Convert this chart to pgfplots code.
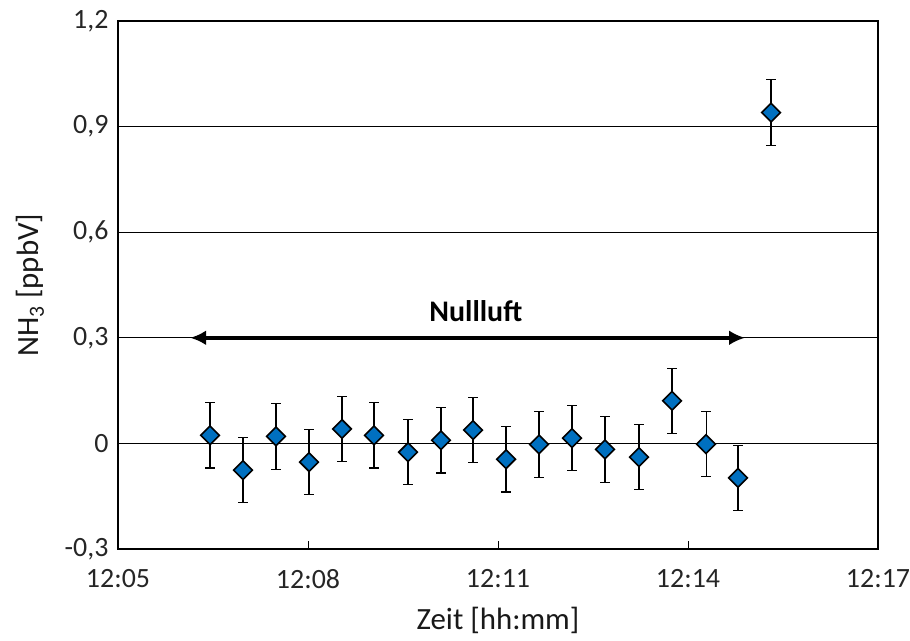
\documentclass[border=0pt]{standalone}
\usepackage{pgfplots}
\pgfplotsset{compat=1.18}
\usepackage{fontspec}
\setmainfont{Carlito}
\usetikzlibrary{arrows.meta}
\definecolor{mblue}{HTML}{0070C0}
\begin{document}
\begin{tikzpicture}
\begin{axis}[
  name=ax,
  scale only axis,
  width=760bp, height=528bp,
  xmin=5, xmax=17, ymin=-0.3, ymax=1.2,
  xtick={5,8,11,14,17},
  xticklabels={12:05,12:08,12:11,12:14,12:17},
  ytick={-0.3,0,0.3,0.6,0.9,1.2},
  yticklabels={{-0,3},{0},{0,3},{0,6},{0,9},{1,2}},
  /pgf/number format/assume math mode=true,
  tick align=inside,
  xtick pos=bottom, ytick pos=left,
  major tick length=8bp,
  xtick style={black, line width=0.8bp},
  ytick style={draw=none},
  ymajorgrids,
  major grid style={black, line width=1bp},
  axis line style={black, line width=2.4bp},
  tick label style={font=\fontsize{28}{33}\selectfont, text=black!85},
  xticklabel style={yshift=-17bp},
  yticklabel style={xshift=-6bp},
  label style={font=\fontsize{31}{36}\selectfont, text=black!90},
  xlabel={Zeit [hh:mm]},
  ylabel={NH\textsubscript{3} [ppbV]},
  xlabel style={at={(axis description cs:0.5,0)}, anchor=center, yshift=-71bp},
  ylabel style={at={(axis description cs:0,0.5)}, anchor=center, yshift=88bp},
  clip=false,
]
\addplot[
  only marks,
  mark=square*,
  mark size=6.6bp,
  mark options={rotate=45, fill=mblue, draw=black, line width=1.6bp},
  error bars/.cd,
    y dir=both, y explicit,
    error bar style={black, line width=1.1bp},
    error mark options={rotate=90, mark size=4.7bp, line width=1.1bp, black},
] table[x=x, y=y, y error=e] {
x y e
6.453 0.023 0.093
6.974 -0.076 0.093
7.495 0.020 0.093
8.016 -0.053 0.093
8.537 0.041 0.093
9.042 0.023 0.093
9.579 -0.025 0.093
10.100 0.009 0.093
10.606 0.038 0.093
11.127 -0.045 0.093
11.648 -0.003 0.093
12.169 0.015 0.093
12.690 -0.017 0.093
13.227 -0.039 0.093
13.748 0.121 0.093
14.285 -0.002 0.093
14.790 -0.098 0.093
15.311 0.940 0.093
};
\draw[line width=4.5bp, {Latex[length=16bp,width=15bp]}-{Latex[length=16bp,width=15bp]}] (axis cs:6.14,0.3) -- (axis cs:14.90,0.3);
\node[font=\fontsize{30}{35}\selectfont\bfseries] at (axis cs:10.65,0.376) {Nullluft};
\draw[black, line width=2.6bp] (rel axis cs:0,0) rectangle (rel axis cs:1,1);
\end{axis}
\pgfresetboundingbox
\path ([shift={(-118bp,-92bp)}]ax.south west) rectangle ([shift={(32bp,21bp)}]ax.north east);
\end{tikzpicture}
\end{document}
